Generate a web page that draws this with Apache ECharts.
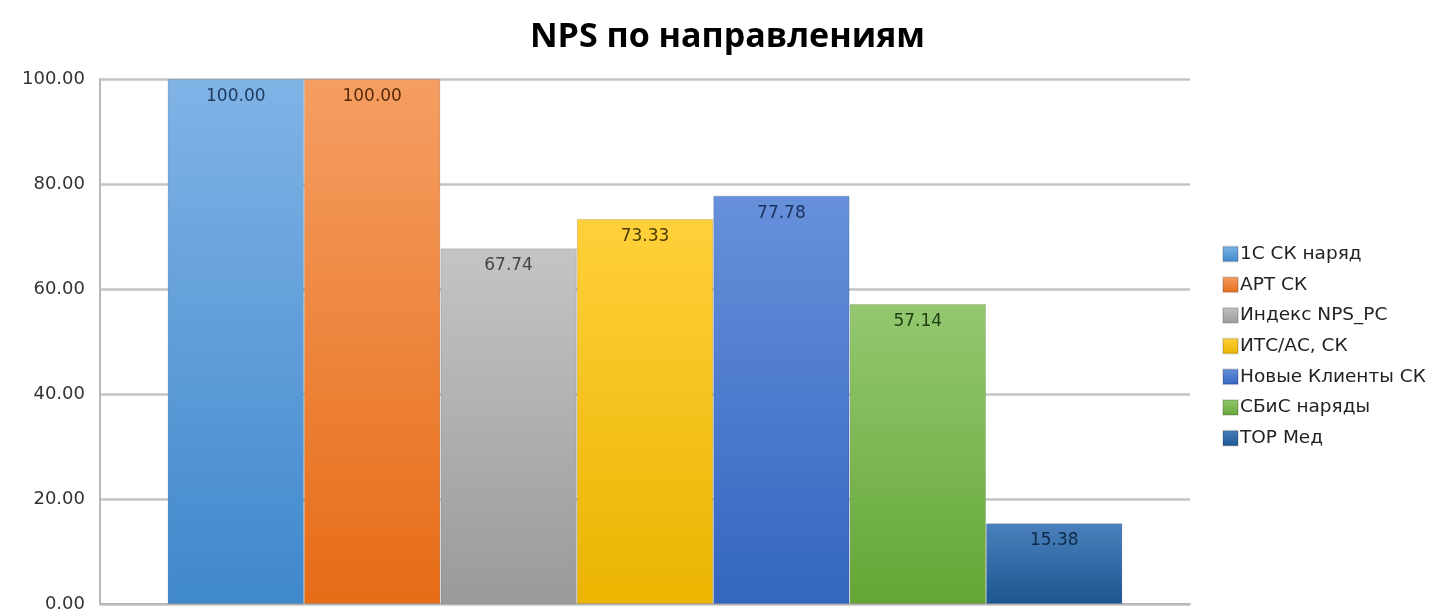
<!DOCTYPE html>
<html>
<head>
<meta charset="utf-8">
<script src="https://cdn.jsdelivr.net/npm/echarts@6/dist/echarts.min.js"></script>
<style>
  html, body { margin: 0; padding: 0; background: #fff; }
  #chart { width: 1455px; height: 613px; }
</style>
</head>
<body>
<div id="chart"></div>
<script>
// NPS values by direction, one bar per series
const seriesNames = ['1С СК наряд', 'АРТ СК', 'Индекс NPS_PC', 'ИТС/АС, СК', 'Новые Клиенты СК', 'СБиС наряды', 'ТОР Мед'];
const seriesValues = [100.00, 100.00, 67.74, 73.33, 77.78, 57.14, 15.38];
const categories = [''];
const yTicks = { min: 0, max: 100, interval: 20 };

// gradient colours: [top, bottom], label colour
const colorTop = ['#80b3e6', '#f59e63', '#c4c4c4', '#ffd03a', '#6690da', '#94c870', '#4a80bd'];
const colorBottom = ['#3f88cc', '#e66c17', '#9a9a9a', '#ebb400', '#3466c0', '#63a636', '#1b5791'];
const labelColors = ['#1b3a5e', '#5a2a08', '#444444', '#4a3a00', '#1a2f5c', '#1e3d10', '#0f2a48'];

const series = seriesNames.map((name, i) => ({
  name: name,
  type: 'bar',
  data: [seriesValues[i]],
  barGap: 0,
  barCategoryGap: '12.4%',
  itemStyle: {
    color: new echarts.graphic.LinearGradient(0, 0, 0, 1, [
      { offset: 0, color: colorTop[i] },
      { offset: 1, color: colorBottom[i] }
    ]),
    borderColor: 'rgba(0,0,0,0.12)',
    borderWidth: 1
  },
  label: {
    show: true,
    position: 'insideTop',
    distance: 9,
    formatter: p => p.value.toFixed(2),
    color: labelColors[i],
    fontFamily: 'DejaVu Sans',
    fontSize: 17
  }
}));

const chart = echarts.init(document.getElementById('chart'));
chart.setOption({
  animation: false,
  backgroundColor: '#ffffff',
  title: {
    text: 'NPS по направлениям',
    left: 'center',
    top: 15,
    textStyle: { fontFamily: 'Open Sans', fontWeight: 'bold', fontSize: 34, color: '#000' }
  },
  legend: {
    orient: 'vertical',
    left: 1217,
    top: 239,
    itemWidth: 15,
    itemHeight: 15,
    itemGap: 10.7,
    icon: 'rect',
    textStyle: { fontFamily: 'DejaVu Sans', fontSize: 18.5, lineHeight: 20, color: '#222', padding: [0, 0, 0, -3] },
    data: seriesNames
  },
  grid: { left: 100, right: 265, top: 79, bottom: 9, containLabel: false },
  xAxis: {
    type: 'category',
    data: categories,
    axisLine: { show: true, lineStyle: { color: '#b8b8b8', width: 2 } },
    axisTick: { show: false },
    axisLabel: { show: false }
  },
  yAxis: {
    type: 'value',
    min: yTicks.min,
    max: yTicks.max,
    interval: yTicks.interval,
    axisLine: { show: true, lineStyle: { color: '#b8b8b8', width: 2 } },
    axisTick: { show: false },
    axisLabel: {
      formatter: v => v.toFixed(2),
      fontFamily: 'DejaVu Sans',
      fontSize: 18,
      color: '#333',
      margin: 15
    },
    splitLine: { lineStyle: { color: '#c4c4c4', width: 2.5 } }
  },
  series: series
});
</script>
</body>
</html>
